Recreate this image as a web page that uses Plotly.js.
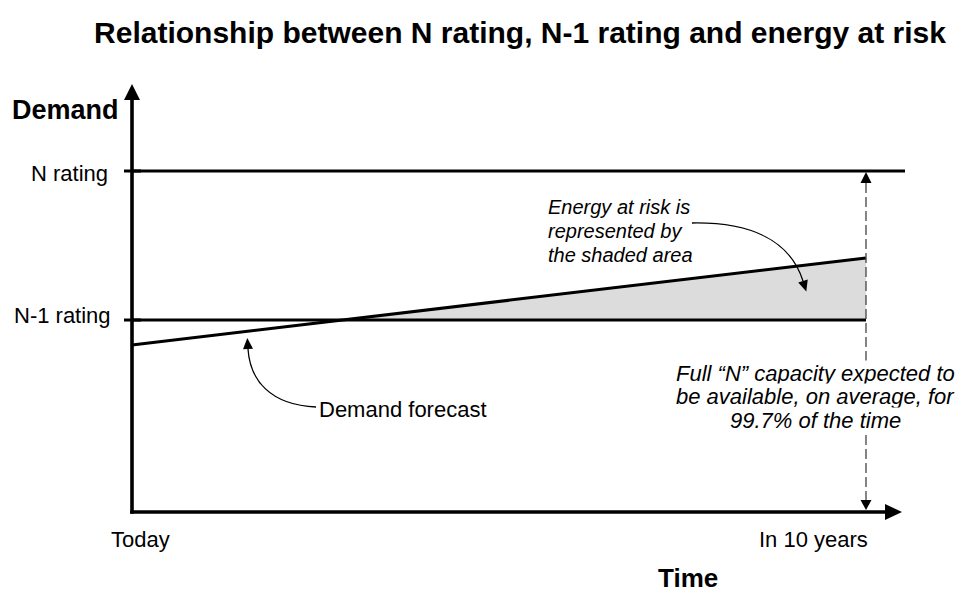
<!DOCTYPE html>
<html><head><meta charset="utf-8">
<script src="https://cdn.plot.ly/plotly-3.0.1.min.js"></script>
<style>html,body{margin:0;padding:0;background:#fff}#chart{width:962px;height:594px}</style>
</head><body><div id="chart"></div>
<script>
// ---- data ----
const years = [0, 10];
const timeLabels = ['Today', 'In 10 years'];
const nRating = [100, 100];
const n1Rating = [56.3, 56.3];
const demandForecast = [49, 74.5];
const ratingLabels = ['N rating', 'N-1 rating'];
const axisTitles = ['Demand', 'Time'];
const chartTitle = 'Relationship between N rating, N-1 rating and energy at risk';
const noteRisk = ['Energy at risk is', 'represented by', 'the shaded area'];
const noteForecast = 'Demand forecast';
const noteCapacity = ['Full \u201cN\u201d capacity expected to', 'be available, on average, for', '99.7% of the time'];

// ---- pixel <-> data helpers (plot area = whole figure) ----
const W = 962, H = 594;
const X0 = 132, XS = 73.4, Y0 = 512, YS = 3.41;
const X = px => (px - X0) / XS;
const Y = py => (Y0 - py) / YS;
const P = (px, py) => X(px) + ',' + Y(py);

const FONT = 'Liberation Sans, Arial, Helvetica, sans-serif';

// intersection of demand with N-1 rating
const slope = (demandForecast[1] - demandForecast[0]) / (years[1] - years[0]);
const xCross = years[0] + (n1Rating[0] - demandForecast[0]) / slope;

const traces = [
  {x: [xCross, years[1]], y: [n1Rating[0], n1Rating[1]], mode: 'lines', line: {width: 0}, hoverinfo: 'skip', showlegend: false},
  {x: [xCross, years[1]], y: [n1Rating[0], demandForecast[1]], mode: 'lines', line: {width: 0}, fill: 'tonexty', fillcolor: '#dcdcdc', hoverinfo: 'skip', showlegend: false},
  {x: years, y: n1Rating, mode: 'lines', line: {color: '#000', width: 3}, showlegend: false, hoverinfo: 'skip'},
  {x: [years[0], X(905)], y: nRating, mode: 'lines', line: {color: '#000', width: 3}, showlegend: false, hoverinfo: 'skip'},
  {x: years, y: demandForecast, mode: 'lines', line: {color: '#000', width: 3}, showlegend: false, hoverinfo: 'skip'}
];

function tri(tx, ty, dx, dy, len, half) {
  const n = Math.hypot(dx, dy); dx /= n; dy /= n;
  const bx = tx - dx * len, by = ty - dy * len;
  const px = -dy, py = dx;
  return {type: 'path', xref: 'x', yref: 'y', fillcolor: '#000', line: {width: 0},
    path: 'M' + P(tx, ty) + ' L' + P(bx + px * half, by + py * half) + ' L' + P(bx - px * half, by - py * half) + ' Z'};
}
function seg(x0, y0, x1, y1, w, color, dash) {
  return {type: 'line', xref: 'x', yref: 'y', x0: X(x0), y0: Y(y0), x1: X(x1), y1: Y(y1),
    line: {color: color || '#000', width: w, dash: dash || 'solid'}};
}
function curve(p0, c1, c2, p1) {
  return {type: 'path', xref: 'x', yref: 'y', line: {color: '#000', width: 1.3},
    path: 'M' + P(p0[0], p0[1]) + ' C' + P(c1[0], c1[1]) + ' ' + P(c2[0], c2[1]) + ' ' + P(p1[0], p1[1])};
}

const yN = 512 - nRating[0] * YS, yN1 = 512 - n1Rating[0] * YS;
const shapes = [
  // axes
  seg(132, 513.8, 132, 98, 3.6),
  seg(130.2, 512, 887, 512, 3.6),
  tri(132, 84, 0, -1, 16, 8),
  tri(902, 512, 1, 0, 17, 8),
  // ticks
  seg(124, yN, 141, yN, 3),
  seg(124, yN1, 141, yN1, 3),
  // dashed capacity line
  seg(866, 183, 866, 500, 1.3, '#444', '10px,4px'),
  tri(866, 172, 0, -1, 11, 5.5),
  tri(866, 510, 0, 1, 10, 5.5),
  // curved pointers
  curve([692, 223], [750, 222], [790, 240], [803, 281]),
  tri(806.3, 291.5, 13, 41, 11, 5),
  curve([316, 407], [270, 405], [250, 380], [248, 349]),
  tri(247.3, 338, -2, -31, 11, 5)
];

function txt(text, px, py, opts) {
  return Object.assign({text: text, x: X(px), y: Y(py), xref: 'x', yref: 'y', showarrow: false,
    xanchor: 'center', yanchor: 'middle', font: {family: FONT, size: 22, color: '#000'}}, opts || {});
}
const annotations = [
  txt(axisTitles[0], 10, 109.5, {xanchor: 'left', font: {family: FONT, size: 27, color: '#000', weight: 'bold'}}),
  {text: axisTitles[1], x: 688 / W, y: 0, xref: 'paper', yref: 'paper', xanchor: 'center', yanchor: 'bottom', borderpad: 0,
    showarrow: false, font: {family: FONT, size: 26, color: '#000', weight: 'bold'}},
  txt(ratingLabels[0], 110, 173, {xanchor: 'right'}),
  txt(ratingLabels[1], 113, 315, {xanchor: 'right'}),
  txt(timeLabels[0], 140.5, 539),
  txt(timeLabels[1], 813, 539),
  txt(noteForecast, 317, 409, {xanchor: 'left'}),
];
noteRisk.forEach((t, i) => annotations.push(txt(t, 546, 207 + 24 * i, {xanchor: 'left', font: {family: FONT, size: 20, color: '#000', style: 'italic'}})));
noteCapacity.forEach((t, i) => annotations.push(txt(t, 815, 373 + 23.5 * i, {bgcolor: '#fff', borderpad: 0, font: {family: FONT, size: 22, color: '#000', style: 'italic'}})));

const layout = {
  width: W, height: H,
  margin: {l: 0, r: 0, t: 0, b: 0},
  paper_bgcolor: '#fff', plot_bgcolor: '#fff',
  title: {text: chartTitle, x: 520 / W, xanchor: 'center', xref: 'paper', y: 1 - 32 / H, yanchor: 'middle', yref: 'container',
    font: {family: FONT, size: 30, color: '#000', weight: 'bold'}},
  xaxis: {visible: false, range: [X(0), X(W)], fixedrange: true},
  yaxis: {visible: false, range: [Y(H), Y(0)], fixedrange: true},
  shapes: shapes,
  annotations: annotations,
  showlegend: false
};
Plotly.newPlot('chart', traces, layout, {displayModeBar: false, staticPlot: true});
</script></body></html>
